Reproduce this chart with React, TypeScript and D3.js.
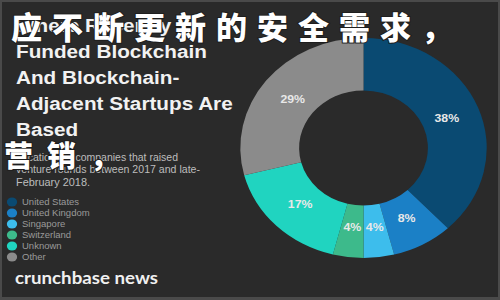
import React from "react";
import * as d3 from "d3";

const countries = ["United States", "United Kingdom", "Singapore", "Switzerland", "Unknown", "Other"];
const shares = [38, 8, 4, 4, 17, 29];
const colors = ["#0a4a72", "#1b80c6", "#3dbdec", "#3dba8b", "#20d4c0", "#8b8b8b"];
const titleLines = ["Where Recently", "Funded Blockchain", "And Blockchain-", "Adjacent Startups Are", "Based"];
const subtitleLines = ["Locations of companies that raised", "venture rounds between 2017 and late-", "February 2018."];
const subtitleWidths = [162, 184, 74];
const overlayTop = "应不断更新的安全需求，";
const overlayMid = "营销，";

const SX = 1.12;

export default function App() {
  const cx = 363.5 / SX;
  const cy = 148;
  const outerR = 110;
  const innerR = 57.5;
  const pie = d3.pie<number>().sort(null).value((d) => d).startAngle(0).endAngle(2 * Math.PI);
  const arcs = pie(shares);
  const arc = d3.arc<d3.PieArcDatum<number>>().innerRadius(innerR).outerRadius(outerR);
  const labelArc = d3.arc<d3.PieArcDatum<number>>().innerRadius(80).outerRadius(80);

  return (
    <svg width={500} height={300} style={{ position: "absolute", left: 0, top: 0 }}>
      <rect x={0} y={0} width={500} height={300} fill="#4a4a4a" />
      <rect x={2} y={2} width={496} height={295} fill="#2a2a2a" />
      <g transform={`scale(${SX},1)`}>
        <g transform={`translate(${cx},${cy})`}>
          {arcs.map((a, i) => (
            <path key={i} d={arc(a) || ""} fill={colors[i]} />
          ))}
          {arcs.map((a, i) => {
            const [lx, ly] = labelArc.centroid(a);
            return (
              <text key={"l" + i} x={lx} y={ly} dy="0.35em" textAnchor="middle" fontFamily="Liberation Sans, Arial, sans-serif" fontWeight={700} fontSize={11} fill="#e8e8e8">
                {shares[i]}%
              </text>
            );
          })}
        </g>
        {titleLines.map((t, i) => (
          <text key={"t" + i} x={16 / SX} y={32 + i * 26.1} fontFamily="Liberation Sans, Arial, sans-serif" fontWeight={700} fontSize={18.5} fill="#f2f2f2">
            {t}
          </text>
        ))}
        {subtitleLines.map((t, i) => (
          <text key={"s" + i} x={16 / SX} y={161 + i * 12.5} fontFamily="Liberation Sans, Arial, sans-serif" fontSize={10} fill="#bdbdbd" textLength={subtitleWidths[i] / SX} lengthAdjust="spacingAndGlyphs">
            {t}
          </text>
        ))}
        {countries.map((c, i) => (
          <g key={"g" + i}>
            <circle cx={12 / SX} cy={202 + i * 11} r={4.6} fill={colors[i]} />
            <text x={22 / SX} y={202 + i * 11} dy="0.35em" fontFamily="Liberation Sans, Arial, sans-serif" fontSize={8.5} fill="#9a9a9a">
              {c}
            </text>
          </g>
        ))}
        <text x={15 / SX} y={284} fontFamily="Lato, Noto Sans, sans-serif" fontWeight={700} fontSize={17} fill="#f0f0f0" textLength={143 / SX} lengthAdjust="spacingAndGlyphs">
          crunchbase news
        </text>
      </g>
      <text x={11} y={39} fontFamily="Noto Sans CJK SC" fontWeight={900} fontSize={31} letterSpacing={10} fill="#ffffff" stroke="#1e1e1e" strokeWidth={2} paintOrder="stroke">
        {overlayTop}
      </text>
      <text x={4} y={167} fontFamily="Noto Sans CJK SC" fontWeight={900} fontSize={29} letterSpacing={14} fill="#ffffff" stroke="#1e1e1e" strokeWidth={2} paintOrder="stroke">
        {overlayMid}
      </text>
    </svg>
  );
}
